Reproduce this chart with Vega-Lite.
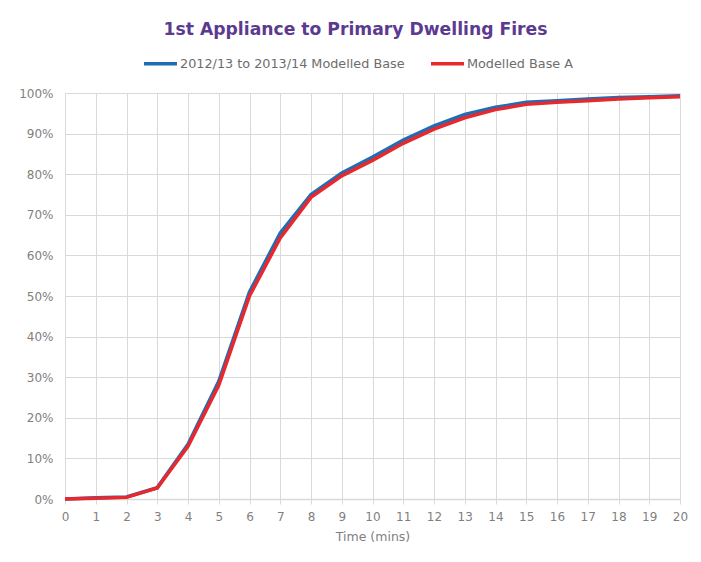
{
  "$schema": "https://vega.github.io/schema/vega-lite/v6.json",
  "width": 615,
  "height": 406,
  "autosize": {"type": "none"},
  "padding": {"left": 65, "top": 93, "right": 21, "bottom": 63},
  "background": "white",
  "title": {
    "text": "1st Appliance to Primary Dwelling Fires",
    "font": "DejaVu Sans",
    "fontSize": 17.2,
    "fontWeight": "bold",
    "color": "#5b3a8f",
    "anchor": "middle",
    "frame": "group",
    "dx": -17,
    "baseline": "middle",
    "offset": -2
  },
  "data": {
    "values": [
      {"t": 0, "v": 0.000, "s": "2012/13 to 2013/14 Modelled Base"},
      {"t": 1, "v": 0.003, "s": "2012/13 to 2013/14 Modelled Base"},
      {"t": 2, "v": 0.005, "s": "2012/13 to 2013/14 Modelled Base"},
      {"t": 3, "v": 0.028, "s": "2012/13 to 2013/14 Modelled Base"},
      {"t": 4, "v": 0.135, "s": "2012/13 to 2013/14 Modelled Base"},
      {"t": 5, "v": 0.290, "s": "2012/13 to 2013/14 Modelled Base"},
      {"t": 6, "v": 0.510, "s": "2012/13 to 2013/14 Modelled Base"},
      {"t": 7, "v": 0.655, "s": "2012/13 to 2013/14 Modelled Base"},
      {"t": 8, "v": 0.750, "s": "2012/13 to 2013/14 Modelled Base"},
      {"t": 9, "v": 0.803, "s": "2012/13 to 2013/14 Modelled Base"},
      {"t": 10, "v": 0.842, "s": "2012/13 to 2013/14 Modelled Base"},
      {"t": 11, "v": 0.884, "s": "2012/13 to 2013/14 Modelled Base"},
      {"t": 12, "v": 0.919, "s": "2012/13 to 2013/14 Modelled Base"},
      {"t": 13, "v": 0.947, "s": "2012/13 to 2013/14 Modelled Base"},
      {"t": 14, "v": 0.965, "s": "2012/13 to 2013/14 Modelled Base"},
      {"t": 15, "v": 0.977, "s": "2012/13 to 2013/14 Modelled Base"},
      {"t": 16, "v": 0.981, "s": "2012/13 to 2013/14 Modelled Base"},
      {"t": 17, "v": 0.985, "s": "2012/13 to 2013/14 Modelled Base"},
      {"t": 18, "v": 0.989, "s": "2012/13 to 2013/14 Modelled Base"},
      {"t": 19, "v": 0.991, "s": "2012/13 to 2013/14 Modelled Base"},
      {"t": 20, "v": 0.993, "s": "2012/13 to 2013/14 Modelled Base"},
      {"t": 0, "v": 0.000, "s": "Modelled Base A"},
      {"t": 1, "v": 0.002, "s": "Modelled Base A"},
      {"t": 2, "v": 0.004, "s": "Modelled Base A"},
      {"t": 3, "v": 0.027, "s": "Modelled Base A"},
      {"t": 4, "v": 0.130, "s": "Modelled Base A"},
      {"t": 5, "v": 0.280, "s": "Modelled Base A"},
      {"t": 6, "v": 0.500, "s": "Modelled Base A"},
      {"t": 7, "v": 0.643, "s": "Modelled Base A"},
      {"t": 8, "v": 0.743, "s": "Modelled Base A"},
      {"t": 9, "v": 0.796, "s": "Modelled Base A"},
      {"t": 10, "v": 0.834, "s": "Modelled Base A"},
      {"t": 11, "v": 0.876, "s": "Modelled Base A"},
      {"t": 12, "v": 0.911, "s": "Modelled Base A"},
      {"t": 13, "v": 0.939, "s": "Modelled Base A"},
      {"t": 14, "v": 0.959, "s": "Modelled Base A"},
      {"t": 15, "v": 0.972, "s": "Modelled Base A"},
      {"t": 16, "v": 0.977, "s": "Modelled Base A"},
      {"t": 17, "v": 0.981, "s": "Modelled Base A"},
      {"t": 18, "v": 0.985, "s": "Modelled Base A"},
      {"t": 19, "v": 0.988, "s": "Modelled Base A"},
      {"t": 20, "v": 0.991, "s": "Modelled Base A"}
    ]
  },
  "encoding": {
    "x": {
      "field": "t",
      "type": "quantitative",
      "scale": {"domain": [0, 20], "nice": false, "zero": false},
      "axis": {
        "title": "Time (mins)",
        "values": [0,1,2,3,4,5,6,7,8,9,10,11,12,13,14,15,16,17,18,19,20],
        "labelFont": "DejaVu Sans",
        "labelFontSize": 12,
        "labelColor": "#7f7f7f",
        "labelPadding": 7,
        "labelFlush": false,
        "labelOverlap": false,
        "titleFont": "DejaVu Sans",
        "titleFontSize": 12.5,
        "titleFontWeight": "normal",
        "titleColor": "#7f7f7f",
        "titlePadding": 8,
        "grid": true,
        "gridColor": "#d9d9d9",
        "gridWidth": 1,
        "domainColor": "#d9d9d9",
        "domainWidth": 1.5,
        "ticks": true,
        "tickSize": 5,
        "tickColor": "#d9d9d9"
      }
    },
    "y": {
      "field": "v",
      "type": "quantitative",
      "scale": {"domain": [0, 1], "nice": false},
      "axis": {
        "title": null,
        "format": ".0%",
        "values": [0,0.1,0.2,0.3,0.4,0.5,0.6,0.7,0.8,0.9,1],
        "labelFont": "DejaVu Sans",
        "labelFontSize": 12,
        "labelColor": "#7f7f7f",
        "labelPadding": 12,
        "labelFlush": false,
        "ticks": false,
        "domain": false,
        "grid": true,
        "gridColor": "#d9d9d9",
        "gridWidth": 1
      }
    },
    "color": {
      "field": "s",
      "type": "nominal",
      "scale": {
        "domain": ["2012/13 to 2013/14 Modelled Base", "Modelled Base A"],
        "range": ["#1f6db3", "#e8282c"]
      },
      "legend": {
        "title": null,
        "orient": "none",
        "direction": "horizontal",
        "legendX": 77,
        "legendY": -48,
        "symbolType": "stroke",
        "symbolSize": 1090,
        "symbolStrokeWidth": 3.5,
        "labelFont": "DejaVu Sans",
        "labelFontSize": 12.8,
        "labelColor": "#6d6d6d",
        "labelOffset": 1,
        "labelLimit": 400,
        "columnPadding": 18
      }
    }
  },
  "layer": [
    {
      "transform": [{"filter": "datum.s === '2012/13 to 2013/14 Modelled Base'"}],
      "mark": {"type": "line", "strokeWidth": 3.5}
    },
    {
      "transform": [{"filter": "datum.s === 'Modelled Base A'"}],
      "mark": {"type": "line", "strokeWidth": 3.5}
    }
  ],
  "config": {
    "view": {"stroke": null}
  }
}
